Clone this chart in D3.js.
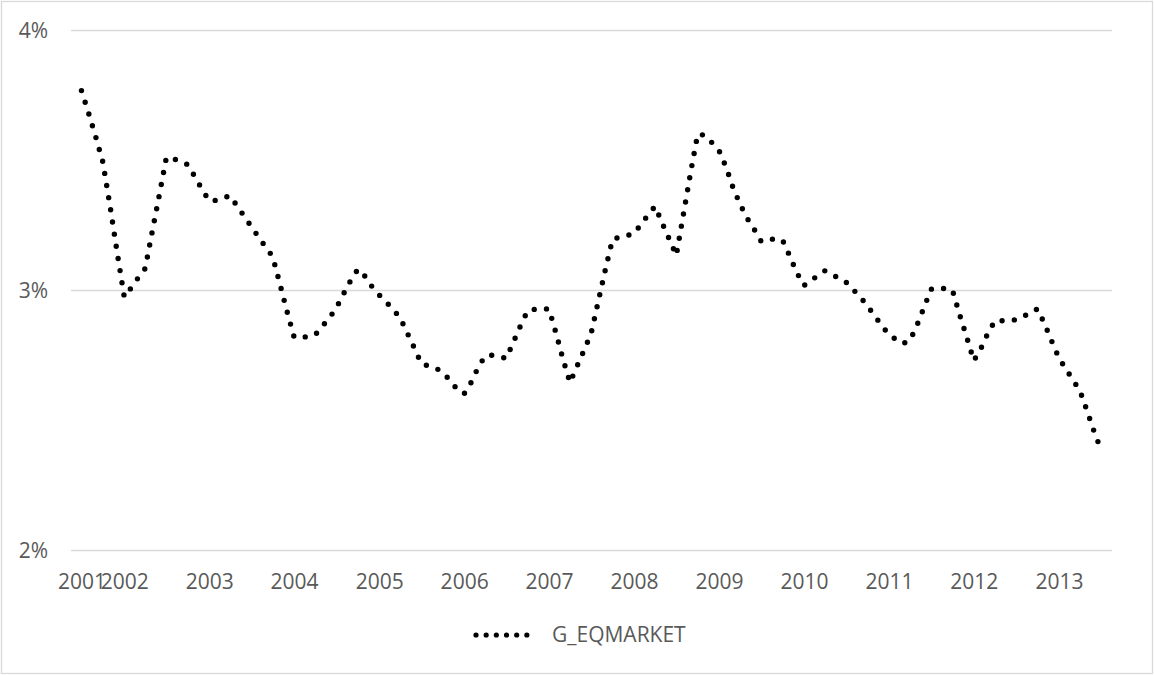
<!DOCTYPE html>
<html>
<head>
<meta charset="utf-8">
<script src="https://cdn.jsdelivr.net/npm/d3@7"></script>
<style>
  html, body { margin: 0; padding: 0; background: #fff; }
  svg { display: block; }
  text { font-family: "Open Sans", "Noto Sans", sans-serif; fill: #595959; }
</style>
</head>
<body>
<svg id="chart" width="1154" height="675"></svg>
<script>
// Monthly series, first observation July 2001, last July 2013 (percent)
const seriesName = "G_EQMARKET";
const firstMonth = [2001, 6]; // year, zero-based month
const values = [
  3.767, 3.679, 3.587, 3.492, 3.322, 3.147,
  2.973, 3.010, 3.046, 3.083, 3.224, 3.367, 3.510, 3.504, 3.496, 3.482, 3.435, 3.388,
  3.343, 3.345, 3.354, 3.363, 3.323, 3.283, 3.244, 3.204, 3.165, 3.128, 3.024, 2.920,
  2.819, 2.819, 2.820, 2.828, 2.860, 2.893, 2.932, 2.986, 3.038, 3.080, 3.053, 3.013,
  2.981, 2.953, 2.926, 2.893, 2.836, 2.777, 2.717, 2.708, 2.700, 2.683, 2.653, 2.619,
  2.601, 2.646, 2.700, 2.746, 2.749, 2.744, 2.737, 2.800, 2.864, 2.920, 2.926, 2.928,
  2.927, 2.831, 2.737, 2.644, 2.706, 2.769, 2.833, 2.958, 3.082, 3.195, 3.203, 3.209,
  3.217, 3.253, 3.288, 3.322, 3.258, 3.195, 3.133, 3.293, 3.454, 3.600, 3.595, 3.567,
  3.536, 3.470, 3.396, 3.330, 3.277, 3.233, 3.187, 3.195, 3.196, 3.192, 3.130, 3.067,
  3.017, 3.037, 3.055, 3.074, 3.060, 3.045, 3.030, 3.001, 2.972, 2.938, 2.901, 2.863,
  2.829, 2.809, 2.794, 2.805, 2.863, 2.933, 3.003, 3.008, 3.005, 3.000, 2.905, 2.820,
  2.728, 2.776, 2.833, 2.882, 2.882, 2.882, 2.886, 2.897, 2.915, 2.927, 2.868, 2.803,
  2.738, 2.695, 2.655, 2.613, 2.537, 2.456, 2.385
];
const yTicks = [2, 3, 4];
const yearLabels = [2001, 2002, 2003, 2004, 2005, 2006, 2007, 2008, 2009, 2010, 2011, 2012, 2013];

// Each observation sits in the middle of its month
const data = values.map((v, i) => ({
  date: new Date(firstMonth[0], firstMonth[1] + i, 16),
  value: v
}));

const svg = d3.select("#chart");
const W = 1154, H = 675;
const plot = { left: 71, right: 1112, top: 30, bottom: 550 };

// outer frame
svg.append("rect")
  .attr("x", 1.5).attr("y", 1.5)
  .attr("width", W - 3).attr("height", H - 3)
  .attr("fill", "#fff").attr("stroke", "#d9d9d9").attr("stroke-width", 1.3);

// axis spans one month before the first and one after the last observation
const x = d3.scaleTime()
  .domain([new Date(firstMonth[0], firstMonth[1] - 1, 1),
           new Date(firstMonth[0], firstMonth[1] + values.length + 1, 1)])
  .range([plot.left, plot.right]);

const y = d3.scaleLinear().domain([2, 4]).range([plot.bottom, plot.top]);

// horizontal gridlines and value labels
const yAxis = d3.axisLeft(y)
  .tickValues(yTicks)
  .tickSize(-(plot.right - plot.left))
  .tickPadding(23)
  .tickFormat(d => d + "%");

const gy = svg.append("g")
  .attr("transform", `translate(${plot.left},0)`)
  .call(yAxis);
gy.select(".domain").remove();
gy.selectAll(".tick line").attr("stroke", "#d9d9d9").attr("stroke-width", 1.3);
gy.selectAll(".tick text")
  .attr("font-size", 21)
  .attr("fill", "#595959")
  .attr("dy", "0.36em");

// year labels at the first observation of each year
const yearTicks = yearLabels.map(yr => data.find(d => d.date.getFullYear() === yr).date);
const xAxis = d3.axisBottom(x)
  .tickValues(yearTicks)
  .tickSize(0)
  .tickPadding(24)
  .tickFormat(d3.timeFormat("%Y"));

const gx = svg.append("g")
  .attr("transform", `translate(0,${plot.bottom})`)
  .call(xAxis);
gx.select(".domain").remove();
gx.selectAll(".tick text")
  .attr("font-size", 21)
  .attr("fill", "#595959");

// series line drawn as round dots
const line = d3.line()
  .x(d => x(d.date))
  .y(d => y(d.value));

svg.append("path")
  .datum(data)
  .attr("d", line)
  .attr("fill", "none")
  .attr("stroke", "#000")
  .attr("stroke-width", 5.4)
  .attr("stroke-linecap", "round")
  .attr("stroke-linejoin", "round")
  .attr("stroke-dasharray", "0 12.3");

// legend
const legend = svg.append("g").attr("transform", "translate(476,635)");
legend.append("line")
  .attr("x1", 0).attr("x2", 61)
  .attr("y1", 0).attr("y2", 0)
  .attr("stroke", "#000")
  .attr("stroke-width", 5.2)
  .attr("stroke-linecap", "round")
  .attr("stroke-dasharray", "0 10.17");
legend.append("text")
  .attr("x", 76).attr("y", 7)
  .attr("font-size", 21)
  .text(seriesName);
</script>
</body>
</html>
